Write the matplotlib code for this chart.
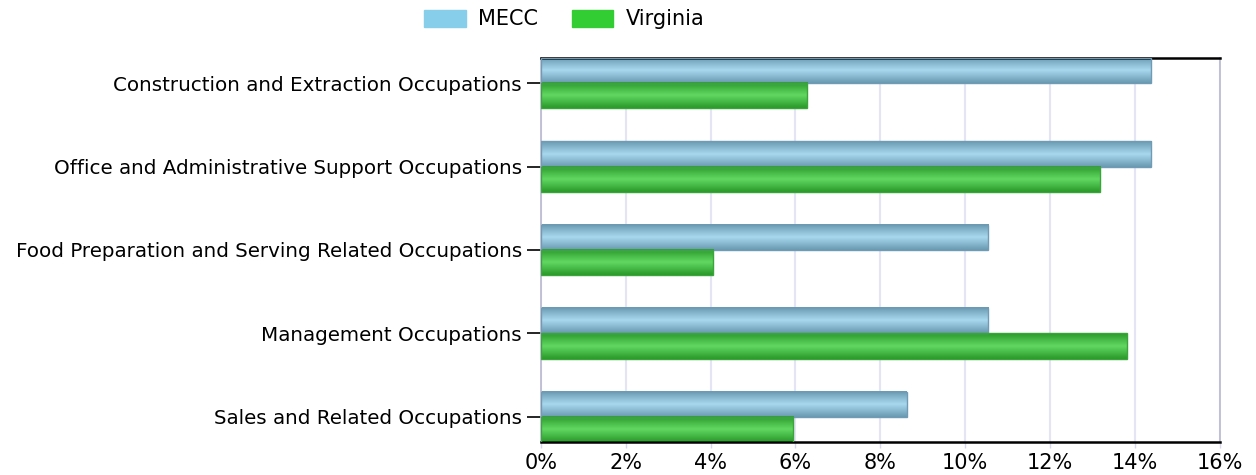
import numpy as np
import matplotlib
matplotlib.use("Agg")
import matplotlib.pyplot as plt
from matplotlib.colors import LinearSegmentedColormap
from matplotlib.patches import Patch

categories = [
    "Construction and Extraction Occupations",
    "Office and Administrative Support Occupations",
    "Food Preparation and Serving Related Occupations",
    "Management Occupations",
    "Sales and Related Occupations",
]
mecc = [14.37, 14.37, 10.54, 10.54, 8.62]
virginia = [6.27, 13.17, 4.07, 13.8, 5.94]
x_ticks = [0, 2, 4, 6, 8, 10, 12, 14, 16]

plt.rcParams["font.family"] = ["DejaVu Sans"]

fig = plt.figure(figsize=(12.56, 4.75), dpi=100)
ax = fig.add_axes([0.4305, 0.0695, 0.5408, 0.8084])

bar_h = 0.3
series = [
    ("MECC", mecc, -bar_h / 2, ["#6a9ab2", "#a8d8ee", "#6a9ab2"], "#6f9cb4", "#87ceeb"),
    ("Virginia", virginia, bar_h / 2, ["#2a9a2a", "#62d862", "#2a9a2a"], "#3aa53a", "#32cd32"),
]

grad = np.linspace(0, 1, 64).reshape(-1, 1)
handles = []
for name, vals, off, cols, edge, solid in series:
    cmap = LinearSegmentedColormap.from_list(name, cols)
    for i, v in enumerate(vals):
        y = i + off
        ax.imshow(grad, cmap=cmap, aspect="auto", interpolation="bilinear",
                  extent=[0, v, y + bar_h / 2, y - bar_h / 2], zorder=2)
    ax.barh(np.arange(len(vals)) + off, vals, height=bar_h, fill=False,
            edgecolor=edge, linewidth=1, zorder=3)
    handles.append(Patch(facecolor=solid, edgecolor=solid, label=name))

ax.set_xlim(0, 16)
ax.set_ylim(len(categories) - 1 + bar_h, -bar_h)
ax.set_yticks(range(len(categories)))
ax.set_yticklabels(categories, fontsize=14.3)
ax.set_xticks(x_ticks)
ax.set_xticklabels([f"{t}%" for t in x_ticks], fontsize=15)
ax.tick_params(axis="y", length=10, width=1.2, color="black", pad=3.6)
ax.tick_params(axis="x", length=4, width=1, color="#d8d8ec", pad=4)

ax.grid(axis="x", color="#e4e4f4", linewidth=1.5, zorder=0)
ax.set_axisbelow(True)
for side in ["top", "bottom"]:
    ax.spines[side].set_color("black")
    ax.spines[side].set_linewidth(1.8)
for side in ["left", "right"]:
    ax.spines[side].set_color("#b8b8d0")
    ax.spines[side].set_linewidth(1.2)

fig.legend(handles=handles, loc="center left", bbox_to_anchor=(0.3376, 0.959),
           ncol=2, frameon=False, fontsize=15, handlelength=2.0, handleheight=0.91,
           columnspacing=1.63, handletextpad=0.58, borderpad=0, borderaxespad=0)

fig.savefig("out.png", dpi=100)
